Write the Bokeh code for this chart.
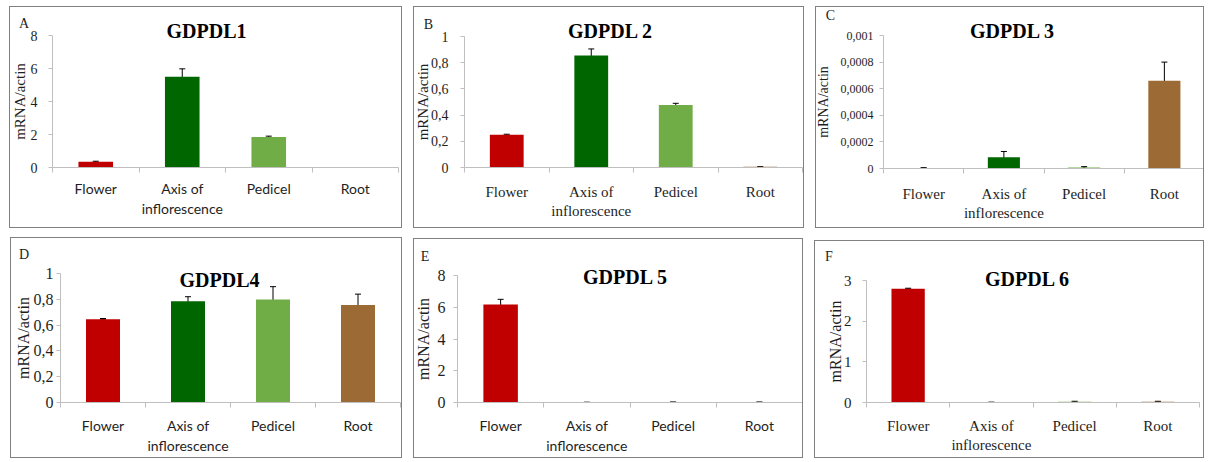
from bokeh.plotting import figure
from bokeh.models import (Range1d, LinearAxis, FixedTicker, Label, Whisker, TeeHead, ColumnDataSource)
from bokeh.layouts import row, column
from bokeh.embed import file_html
from bokeh.resources import INLINE

# ---------------- data ----------------
tissues = ["Flower", "Axis of\ninflorescence", "Pedicel", "Root"]

gdpdl1_mean = [0.35, 5.5, 1.85, 0.0]
gdpdl1_err = [0.03, 0.48, 0.05, 0.0]
gdpdl2_mean = [0.25, 0.855, 0.478, 0.005]
gdpdl2_err = [0.004, 0.05, 0.012, 0.002]
gdpdl3_mean = [0.000004, 0.000085, 0.000008, 0.00066]
gdpdl3_err = [0.000002, 0.000043, 0.000006, 0.00014]
gdpdl4_mean = [0.646, 0.785, 0.798, 0.756]
gdpdl4_err = [0.005, 0.035, 0.1, 0.084]
gdpdl5_mean = [6.18, 0.01, 0.02, 0.02]
gdpdl5_err = [0.32, 0.005, 0.01, 0.01]
gdpdl6_mean = [2.8, 0.005, 0.02, 0.02]
gdpdl6_err = [0.01, 0.002, 0.01, 0.01]

ticks_8 = [0, 2, 4, 6, 8]
labels_8 = ["0", "2", "4", "6", "8"]
ticks_1 = [0, 0.2, 0.4, 0.6, 0.8, 1]
labels_1 = ["0", "0,2", "0,4", "0,6", "0,8", "1"]
ticks_001 = [0, 0.0002, 0.0004, 0.0006, 0.0008, 0.001]
labels_001 = ["0", "0,0002", "0,0004", "0,0006", "0,0008", "0,001"]
ticks_3 = [0, 1, 2, 3]
labels_3 = ["0", "1", "2", "3"]

titles = ["GDPDL1", "GDPDL 2", "GDPDL 3", "GDPDL4", "GDPDL 5", "GDPDL 6"]
letters = ["A", "B", "C", "D", "E", "F"]
y_label = "mRNA/actin"

# ---------------- styles ----------------
bar_colors = ["#c00000", "#006600", "#70ad47", "#9c6a34"]
AXIS_GREY = "#bfbfbf"
TEXT = "#1e1e1e"
SERIF = "Liberation Serif"
SANS = "Lato"

# layout per panel (page pixels): box = outer box (x, y, w, h incl. 1px border),
# axes = (x of y-axis, right end of x-axis, y of top tick, y of x-axis),
# title / letter = text centres, margin = (top, right, bottom, left)
geoms = [
    dict(box=(9, 6, 395, 224), margin=(6, 0, 0, 9), axes=(52, 398, 35, 167),
         title=(206, 30), letter=(23.5, 22.5),
         xfont=SANS, xsize="14px", xstand=7, ysize="14px", ystand=11, ylsize="15px", ylstand=0),
    dict(box=(415, 6, 393, 224), margin=(6, 0, 0, 11), axes=(466, 804, 36, 167),
         title=(612, 30), letter=(430, 23.5),
         xfont=SERIF, xsize="15px", xstand=11, ysize="14px", ystand=12, ylsize="15px", ylstand=-3),
    dict(box=(819, 6, 391, 224), margin=(6, 0, 0, 11), axes=(887, 1208, 35, 168),
         title=(1016, 30), letter=(834, 15),
         xfont=SERIF, xsize="15px", xstand=12, ysize="12px", ystand=6, ylsize="14px", ylstand=7),
    dict(box=(10, 239, 394, 223), margin=(9, 0, 0, 10), axes=(60, 400, 275, 404),
         title=(219, 281), letter=(23.5, 256),
         xfont=SANS, xsize="14px", xstand=9, ysize="16px", ystand=3, ylsize="16px", ylstand=-1),
    dict(box=(415, 240, 392, 222), margin=(10, 0, 0, 11), axes=(459, 804, 277, 404),
         title=(627, 278), letter=(426.5, 257.5),
         xfont=SANS, xsize="14px", xstand=9, ysize="16px", ystand=8, ylsize="16px", ylstand=3),
    dict(box=(818, 242, 392, 220), margin=(12, 0, 0, 11), axes=(870, 1203, 282, 404),
         title=(1031, 280), letter=(832.5, 258),
         xfont=SERIF, xsize="15px", xstand=10, ysize="15px", ystand=11, ylsize="16px", ylstand=-3),
]

series = [
    (gdpdl1_mean, gdpdl1_err, ticks_8, labels_8),
    (gdpdl2_mean, gdpdl2_err, ticks_1, labels_1),
    (gdpdl3_mean, gdpdl3_err, ticks_001, labels_001),
    (gdpdl4_mean, gdpdl4_err, ticks_1, labels_1),
    (gdpdl5_mean, gdpdl5_err, ticks_8, labels_8),
    (gdpdl6_mean, gdpdl6_err, ticks_3, labels_3),
]


def make_panel(i):
    mean, err, ticks, tlabels = series[i]
    g = geoms[i]
    n = len(tissues)
    bx, by, bw, bh = g["box"]
    wi, hi = bw - 2, bh - 2
    ox, oy = bx + 1, by + 1
    L, R = g["axes"][0] - ox, g["axes"][1] - ox
    T, B = g["axes"][2] - oy, g["axes"][3] - oy
    ymax = max(ticks)
    ux = (R - L) / n
    uy = (B - T) / ymax
    x_range = Range1d(-L / ux, n + (wi - R) / ux)
    y_range = Range1d(-(hi - B) / uy, ymax + T / uy)

    p = figure(width=wi, height=hi, x_range=x_range, y_range=y_range,
               x_axis_location=None, y_axis_location=None,
               toolbar_location=None, output_backend="svg", min_border=0,
               margin=g["margin"], styles={"border": "1px solid #808080"})
    p.title.visible = False
    p.outline_line_color = None
    p.xgrid.visible = False
    p.ygrid.visible = False
    p.background_fill_color = "white"
    p.border_fill_color = "white"

    centers = [k + 0.5 for k in range(n)]
    edges = list(range(n + 1))

    # y axis, pinned at the left end of the category axis
    yax = LinearAxis(ticker=FixedTicker(ticks=ticks), fixed_location=0, bounds=(0, ymax),
                     major_label_overrides=dict(zip(ticks, tlabels)), axis_label=y_label)
    yax.axis_line_color = AXIS_GREY
    yax.major_tick_line_color = AXIS_GREY
    yax.major_tick_out = 4
    yax.major_tick_in = 0
    yax.minor_tick_line_color = None
    yax.major_label_text_font = SERIF
    yax.major_label_text_font_size = g["ysize"]
    yax.major_label_text_color = TEXT
    yax.major_label_standoff = g["ystand"]
    yax.axis_label_text_font = SERIF
    yax.axis_label_text_font_style = "normal"
    yax.axis_label_text_font_size = g["ylsize"]
    yax.axis_label_text_color = TEXT
    yax.axis_label_standoff = g["ylstand"]
    p.add_layout(yax, "left")

    # category axis at y = 0, tick marks between categories
    xax = LinearAxis(ticker=FixedTicker(ticks=centers, minor_ticks=edges), fixed_location=0,
                     bounds=(0, n), major_label_overrides=dict(zip(centers, tissues)))
    xax.axis_line_color = AXIS_GREY
    xax.major_tick_line_color = None
    xax.major_tick_out = 0
    xax.major_tick_in = 0
    xax.minor_tick_line_color = AXIS_GREY
    xax.minor_tick_out = 5
    xax.minor_tick_in = 0
    xax.major_label_text_font = g["xfont"]
    xax.major_label_text_font_size = g["xsize"]
    xax.major_label_text_color = TEXT
    xax.major_label_standoff = g["xstand"]
    p.add_layout(xax, "below")

    src = ColumnDataSource(dict(x=centers, value=mean, color=bar_colors))
    p.vbar(x="x", top="value", bottom=0, width=0.4, source=src, fill_color="color", line_color=None)

    keep = [k for k in range(n) if err[k] > 0]
    wsrc = ColumnDataSource(dict(
        x=[centers[k] for k in keep],
        upper=[mean[k] + err[k] for k in keep],
        lower=[mean[k] - err[k] for k in keep]))
    p.add_layout(Whisker(source=wsrc, base="x", upper="upper", lower="lower",
                         line_color="black", line_width=1,
                         upper_head=TeeHead(size=6, line_color="black", line_width=1),
                         lower_head=TeeHead(size=6, line_color="black", line_width=1)))

    tx, ty = g["title"]
    p.add_layout(Label(x=tx - ox, y=hi - (ty - oy), x_units="screen", y_units="screen",
                       text=titles[i], text_font=SERIF, text_font_style="bold",
                       text_font_size="20px", text_color="black",
                       text_align="center", text_baseline="middle"))
    lx, ly = g["letter"]
    p.add_layout(Label(x=lx - ox, y=hi - (ly - oy), x_units="screen", y_units="screen",
                       text=letters[i], text_font=SERIF, text_font_size="14px",
                       text_color=TEXT, text_align="center", text_baseline="middle"))
    return p


panels = [make_panel(i) for i in range(6)]
layout = column(row(panels[0], panels[1], panels[2], spacing=0),
                row(panels[3], panels[4], panels[5], spacing=0), spacing=0)

open("out.html", "w").write(file_html(layout, INLINE))
